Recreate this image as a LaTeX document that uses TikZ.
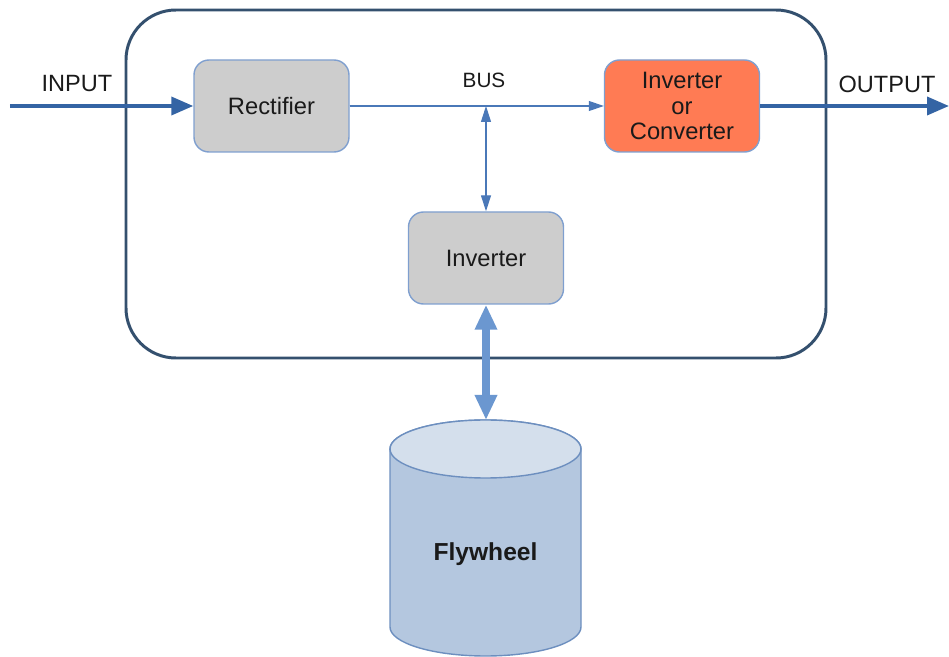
\documentclass[tikz,border=0pt]{standalone}
\usepackage{fontspec}
\setmainfont{Liberation Sans}
\usepackage{tikz}
\usetikzlibrary{arrows.meta}
\usetikzlibrary{calc}

\definecolor{framec}{HTML}{34506E}
\definecolor{wirec}{HTML}{3464A4}
\definecolor{thinc}{HTML}{4A78B8}
\definecolor{boxline}{HTML}{7F9FCF}
\definecolor{boxgray}{HTML}{CDCDCD}
\definecolor{coral}{HTML}{FF7B54}
\definecolor{cylbody}{HTML}{B4C7DF}
\definecolor{cyltop}{HTML}{D4DFEC}
\definecolor{cylline}{HTML}{6D8FBF}
\definecolor{fatc}{HTML}{6B97D0}
\definecolor{txt}{HTML}{1A1A1A}

\begin{document}
\begin{tikzpicture}
      \tikzstyle{block}=[
        rectangle,
        rounded corners=0.3cm,
        draw=boxline,
        line width=0.8pt,
        fill=boxgray,
        text=txt,
        minimum width=3.1cm,
        minimum height=1.84cm,
        align=center,
        font=\fontsize{13.5}{14.3}\selectfont,
      ]
      \tikzstyle{label}=[text=txt, font=\fontsize{13.4}{14}\selectfont]
      \tikzstyle{wire}  = [-{Triangle[length=4.4mm,width=3.6mm]}, draw=wirec, fill=wirec, line width=2.1pt]
      \tikzstyle{bus}   = [-{Triangle[length=3mm,width=2mm]}, draw=thinc, fill=thinc, line width=0.6pt]
      \tikzstyle{dbus}  = [{Triangle[length=3.2mm,width=2mm]}-{Triangle[length=3.2mm,width=2mm]}, draw=thinc, fill=thinc, line width=0.6pt]
      \tikzstyle{fat}   = [{Triangle[length=5mm,width=4.2mm]}-{Triangle[length=5mm,width=4.2mm]}, draw=fatc, fill=fatc, line width=4pt]

      \useasboundingbox (0,0) rectangle (18.98,-13.14);

      \draw[framec, line width=1.7pt, rounded corners=1cm] (2.52,-0.2) rectangle (16.52,-7.16);

      \node[block] (rect) at (5.43,-2.12) {Rectifier};
      \node[block, fill=coral] (conv) at (13.64,-2.12) {Inverter\\or\\Converter};
      \node[block] (inv) at (9.72,-5.16) {Inverter};

      \node[label] (inlabel) at (1.54,-1.68) {INPUT};
      \node[label] (outlabel) at (17.74,-1.68) {OUTPUT};
      \node[text=txt, font=\fontsize{11.8}{12}\selectfont] (buslabel) at (9.68,-1.6) {BUS};

      \coordinate (in) at (0.2,-2.12);
      \coordinate (out) at (18.98,-2.12);
      \coordinate (bus) at (9.72,-2.12);
      \coordinate (flytop) at (9.72,-8.4);

      \draw[cylline, line width=0.8pt, fill=cylbody] (7.8,-8.98) -- (7.8,-12.54)
        arc[start angle=180, end angle=360, x radius=1.91, y radius=0.58]
        -- (11.62,-8.98)
        arc[start angle=0, end angle=180, x radius=1.91, y radius=0.58] -- cycle;
      \draw[cylline, line width=0.8pt, fill=cyltop] (9.71,-8.98) ellipse[x radius=1.91, y radius=0.58];
      \node[text=txt, font=\fontsize{14}{14}\selectfont\bfseries] (fly) at (9.71,-11.08) {Flywheel};

      \draw[wire] (in) -- (rect);
      \draw[bus] (rect) -- (conv);
      \draw[wire] (conv) -- (out);
      \draw[dbus] (bus) -- (inv);
      \draw[fat] (inv) -- (flytop);
\end{tikzpicture}
\end{document}
